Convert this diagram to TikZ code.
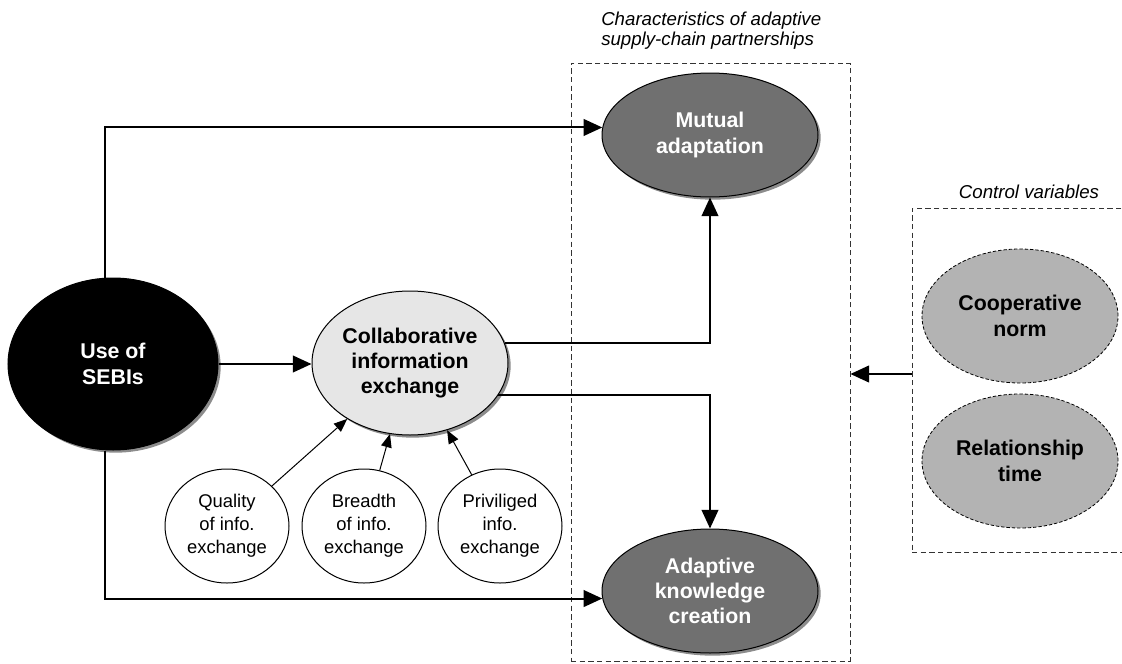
\documentclass[tikz,border=0pt]{standalone}
\usepackage{fontspec}
\setmainfont{Liberation Sans}
\usetikzlibrary{arrows.meta,shadows,calc,shapes.geometric}
\definecolor{midgray}{HTML}{707070}
\definecolor{lightgray2}{HTML}{E6E6E6}
\definecolor{ctrlgray}{HTML}{B3B3B3}
\begin{document}
\begin{tikzpicture}[x=0.75pt,y=-0.75pt,
  conn/.style={line width=1.5pt,-{Triangle[length=14pt,width=12.5pt]}},
  thinconn/.style={line width=0.75pt,-{Triangle[length=10pt,width=8pt]}},
  bigell/.style={ellipse,draw=black,line width=0.75pt,align=center,inner sep=0pt,
    font=\fontsize{16}{19}\selectfont\bfseries,
    drop shadow={shadow xshift=2pt,shadow yshift=-2pt,fill=black!45,opacity=1}},
  ctrlell/.style={ellipse,draw=black,line width=0.6pt,dash pattern=on 2.5pt off 1.5pt,
    fill=ctrlgray,align=center,inner sep=0pt,
    minimum width=147pt,minimum height=100.5pt,
    font=\fontsize{16}{19}\selectfont\bfseries},
  smallell/.style={ellipse,draw=black,line width=0.75pt,fill=white,align=center,inner sep=0pt,
    minimum width=93pt,minimum height=85.5pt,
    font=\fontsize{13.8}{17.3}\selectfont},
  dbox/.style={rectangle,draw=black!80,line width=0.6pt,dash pattern=on 4pt off 2.5pt,inner sep=0pt},
  lab/.style={inner sep=0pt,align=left,font=\fontsize{14}{14.8}\selectfont\itshape}
]
\useasboundingbox (0,0) rectangle (1122,664);

% dashed group boxes
\node[dbox,minimum width=209.25pt,minimum height=448.5pt] (chbox) at (710.5,362) {};
\node[dbox,minimum width=167.25pt,minimum height=258pt] (ctrl) at (1023.5,380) {};

% labels
\node[lab,anchor=base west] (chlab) at (601,45.5) {Characteristics of adaptive\\supply-chain partnerships};
\node[lab,anchor=base] (ctlab) at (1029,198) {Control variables};

% main nodes
\node[bigell,fill=black,text=white,minimum width=157.5pt,minimum height=129pt] (use) at (113,364) {Use of\\SEBIs};
\node[bigell,fill=lightgray2,minimum width=147pt,minimum height=108pt] (col) at (410,363) {Collaborative\\information\\exchange};
\node[bigell,fill=midgray,text=white,minimum width=162pt,minimum height=93pt] (mut) at (710,135) {Mutual\\adaptation};
\node[bigell,fill=midgray,text=white,minimum width=162pt,minimum height=93pt] (adp) at (710,591) {Adaptive\\knowledge\\creation};

\node[ctrlell] (coop) at (1020,316) {Cooperative\\norm};
\node[ctrlell] (rel) at (1020,461) {Relationship\\time};

\node[smallell] (qual) at (227,526) {Quality\\of info.\\exchange};
\node[smallell] (bre) at (364,526) {Breadth\\of info.\\exchange};
\node[smallell] (pri) at (500,526) {Priviliged\\info.\\exchange};

% connectors
\coordinate (vl) at (105,0);
\draw[conn] (use.north -| vl) |- (mut.176);
\draw[conn] (use.south -| vl) |- (adp.184);
\draw[conn] (use.east) -- (use.east -| col.west);
\draw[conn] (col.12) -| (mut.south);
\draw[conn] (col.-20) -| (adp.north);
\draw[thinconn] (qual) -- (col);
\draw[thinconn] (bre) -- (col);
\draw[thinconn] (pri) -- (col);
\coordinate (ca) at ($(ctrl.west)+(0,-6)$);
\draw[conn] (ca) -- (ca -| chbox.east);
\end{tikzpicture}
\end{document}
